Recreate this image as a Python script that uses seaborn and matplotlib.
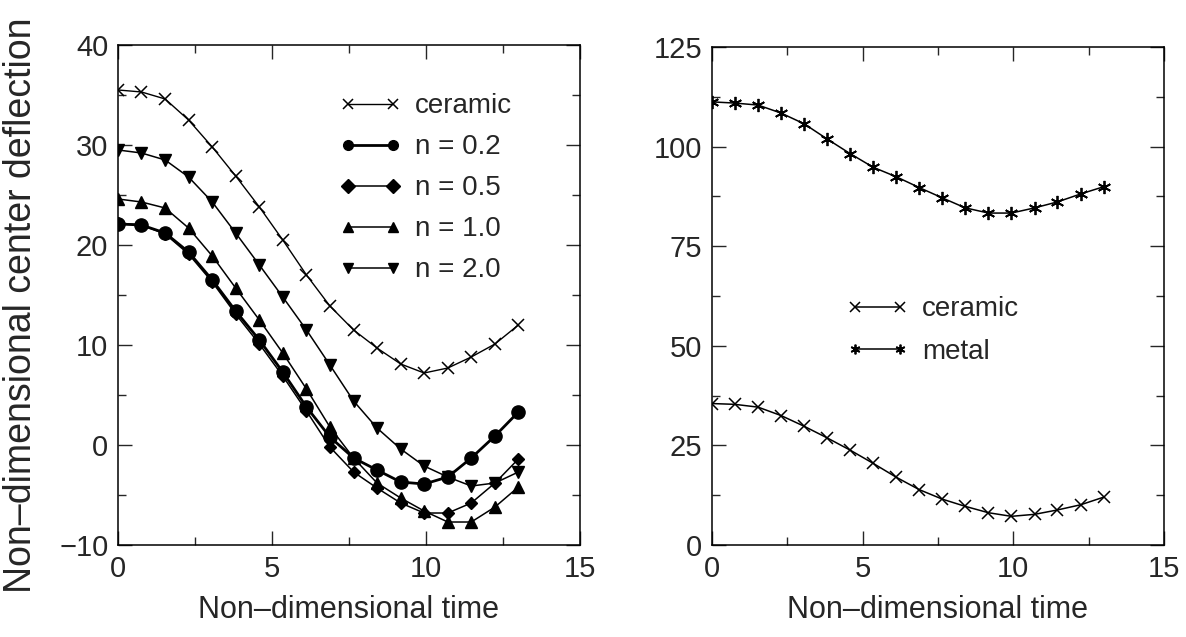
import matplotlib
matplotlib.use("Agg")
import matplotlib.pyplot as plt
import seaborn as sns
import pandas as pd
from matplotlib.ticker import MultipleLocator

# ---------------- data ----------------
time = [0.0, 0.76, 1.53, 2.29, 3.06, 3.82, 4.59, 5.35, 6.12,
        6.88, 7.65, 8.41, 9.18, 9.94, 10.71, 11.47, 12.24, 13.0]

ceramic = [35.5, 35.3, 34.6, 32.5, 29.8, 26.9, 23.8, 20.5, 17.0,
           13.9, 11.5, 9.7, 8.1, 7.2, 7.7, 8.8, 10.1, 12.0]
n02 = [22.1, 22.0, 21.2, 19.3, 16.5, 13.4, 10.5, 7.3, 3.8,
       0.8, -1.3, -2.5, -3.7, -3.9, -3.2, -1.3, 0.9, 3.3]
n05 = [22.2, 22.0, 21.1, 19.1, 16.3, 13.1, 10.1, 6.9, 3.4,
       -0.2, -2.7, -4.3, -5.8, -6.8, -6.8, -5.8, -3.8, -1.4]
n10 = [24.6, 24.3, 23.7, 21.7, 18.9, 15.7, 12.5, 9.2, 5.6,
       1.8, -1.3, -3.8, -5.3, -6.6, -7.7, -7.7, -6.2, -4.2]
n20 = [29.5, 29.2, 28.5, 26.8, 24.3, 21.2, 18.0, 14.8, 11.5,
       8.0, 4.4, 1.7, -0.4, -2.1, -3.2, -4.1, -3.8, -2.7]
metal = [111.2, 110.9, 110.4, 108.4, 105.7, 101.9, 98.2, 94.8, 92.4,
         89.7, 87.1, 84.6, 83.3, 83.3, 84.6, 86.1, 88.1, 89.9]

left_labels = ["ceramic", "n = 0.2", "n = 0.5", "n = 1.0", "n = 2.0"]
right_labels = ["ceramic", "metal"]
xlabel = "Non\u2013dimensional time"
ylabel = "Non\u2013dimensional center deflection"

# ---------------- style ----------------
sns.set_style("ticks")
plt.rcParams["font.family"] = ["Liberation Sans", "DejaVu Sans"]
plt.rcParams["axes.linewidth"] = 1.1
plt.rcParams["xtick.direction"] = "in"
plt.rcParams["ytick.direction"] = "in"
plt.rcParams["xtick.top"] = True
plt.rcParams["ytick.right"] = True

fig = plt.figure(figsize=(11.86, 6.37), dpi=100)
axL = fig.add_axes([0.0995, 0.1444, 0.3895, 0.785])
axR = fig.add_axes([0.6003, 0.1444, 0.381, 0.782])

df = pd.DataFrame({"t": time, "ceramic": ceramic, "n02": n02, "n05": n05,
                   "n10": n10, "n20": n20, "metal": metal})

specs = [
    ("ceramic", "x", 9, 1.0, 1.1),
    ("n02", "o", 9.5, 2.0, 1.0),
    ("n05", "D", 6.5, 1.1, 1.0),
    ("n10", "^", 9, 1.1, 1.0),
    ("n20", "v", 9, 1.1, 1.0),
]
for (col, mk, ms, lw, mew), lab in zip(specs, left_labels):
    sns.lineplot(data=df, x="t", y=col, ax=axL, color="black", marker=mk,
                 markersize=ms, linewidth=lw, markeredgewidth=mew,
                 markeredgecolor="black", markerfacecolor="black",
                 estimator=None, sort=False, label=lab)

sns.lineplot(data=df, x="t", y="ceramic", ax=axR, color="black", marker="x",
             markersize=9, linewidth=1.1, markeredgewidth=1.1,
             markeredgecolor="black", markerfacecolor="black",
             estimator=None, sort=False, label=right_labels[0])
sns.lineplot(data=df, x="t", y="metal", ax=axR, color="black", marker=(6, 2, 0),
             markersize=9.5, linewidth=1.1, markeredgewidth=1.3,
             markeredgecolor="black", markerfacecolor="black",
             estimator=None, sort=False, label=right_labels[1])

tick_fs = 21
for ax in (axL, axR):
    ax.set_xlim(0, 15)
    ax.xaxis.set_major_locator(MultipleLocator(5))
    ax.xaxis.set_minor_locator(MultipleLocator(2.5))
    ax.tick_params(which="major", length=10, width=1.0, labelsize=tick_fs, pad=7)
    ax.tick_params(which="minor", length=6, width=1.0)
    ax.set_xlabel(xlabel, fontsize=22)
    ax.xaxis.set_label_coords(0.5, -0.10)
    for s in ax.spines.values():
        s.set_visible(True)
        s.set_color("black")

axL.set_ylim(-10, 40)
axL.yaxis.set_major_locator(MultipleLocator(10))
axL.yaxis.set_minor_locator(MultipleLocator(5))
axL.set_ylabel(ylabel, fontsize=27)
axL.yaxis.set_label_coords(-0.172, 0.48)

axR.set_ylim(0, 125)
axR.yaxis.set_major_locator(MultipleLocator(25))
axR.yaxis.set_minor_locator(MultipleLocator(12.5))
axR.set_ylabel("")

legL = axL.legend(loc="upper left", bbox_to_anchor=(0.48, 0.903), frameon=False,
                  fontsize=20, handlelength=2.2, handletextpad=0.5,
                  labelspacing=0.54, borderpad=0, borderaxespad=0, numpoints=2)
legR = axR.legend(loc="upper left", bbox_to_anchor=(0.299, 0.499), frameon=False,
                  fontsize=20, handlelength=2.2, handletextpad=0.5,
                  labelspacing=0.6, borderpad=0, borderaxespad=0, numpoints=2)
for leg in (legL, legR):
    for h in leg.legend_handles:
        h.set_markersize(7)

fig.savefig("out.png", dpi=100, facecolor="white")
